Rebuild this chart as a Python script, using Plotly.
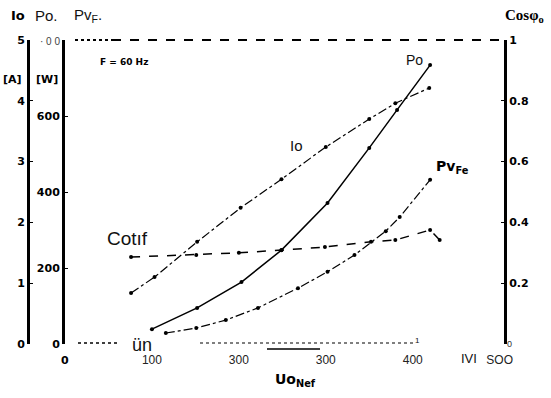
import plotly.graph_objects as go

# Line voltage U0 [V] and measured quantities
u_io = [76, 103, 152, 202, 249, 300, 350, 380, 419]
io_a = [0.84, 1.10, 1.68, 2.24, 2.71, 3.24, 3.70, 3.96, 4.21]

u_po = [100, 152, 203, 249, 302, 350, 382, 420]
po_w = [39, 95, 163, 247, 371, 516, 616, 734]

u_pv = [116, 151, 185, 222, 268, 302, 333, 369, 385, 420]
pv_w = [29, 42, 63, 95, 147, 190, 234, 297, 334, 432]

u_cos = [76, 151, 200, 249, 299, 352, 380, 420, 431]
cos_phi = [0.286, 0.293, 0.300, 0.309, 0.319, 0.336, 0.342, 0.375, 0.342]

x_ticks = [100, 200, 300, 400, 500]
x_labels = ["100", "300", "300", "400", "SOO"]
w_ticks = [0, 200, 400, 600]
w_labels = ["0", "200", "400", "600"]
a_ticks = [0, 1, 2, 3, 4, 5]
a_labels = ["0", "1", "2", "3", "4", "5"]
c_ticks = [0.2, 0.4, 0.6, 0.8, 1.0]
c_labels = ["0.2", "0.4", "0.6", "0.8", "1"]

W, H = 551, 398
ML, MR, MT, MB = 28, 47, 40, 54
PW, PH = W - ML - MR, H - MT - MB


def px(x):
    return (x - ML) / PW


def py(y):
    return (H - MB - y) / PH


BOLD = dict(family="DejaVu Sans", size=11, color="black", weight="bold")
PLAIN = dict(family="Liberation Sans", color="#111")

fig = go.Figure()
mk = dict(size=4, color="black")
fig.add_trace(go.Scatter(x=u_io, y=io_a, yaxis="y2", mode="lines+markers",
                         line=dict(color="black", width=1.2, dash="dashdot"), marker=mk))
fig.add_trace(go.Scatter(x=u_po, y=po_w, mode="lines+markers",
                         line=dict(color="black", width=1.5), marker=mk))
fig.add_trace(go.Scatter(x=u_pv, y=pv_w, mode="lines+markers",
                         line=dict(color="black", width=1.2, dash="dashdot"), marker=mk))
fig.add_trace(go.Scatter(x=u_cos, y=cos_phi, yaxis="y3", mode="lines+markers",
                         line=dict(color="black", width=1.5, dash="dash"), marker=mk))

axis_common = dict(showgrid=False, zeroline=False, showline=True, linecolor="black",
                   linewidth=3, ticks="inside", ticklen=3, tickcolor="black", tickfont=BOLD)

fig.update_layout(
    width=W, height=H, showlegend=False,
    margin=dict(l=ML, r=MR, t=MT, b=MB, pad=0),
    paper_bgcolor="white", plot_bgcolor="white",
    xaxis=dict(domain=[px(65), 1], range=[0, 505], showgrid=False, zeroline=False,
               showline=False, ticks="", tickvals=x_ticks, ticktext=x_labels,
               ticklabelstandoff=7,
               tickfont=dict(PLAIN, size=12, color="#222")),
    yaxis=dict(axis_common, range=[0, 800], tickvals=w_ticks, ticktext=w_labels),
    yaxis2=dict(axis_common, range=[0, 5], overlaying="y", anchor="free", position=0,
                tickvals=a_ticks, ticktext=a_labels),
    yaxis3=dict(axis_common, range=[0, 1], overlaying="y", anchor="x", side="right",
                tickvals=c_ticks, ticktext=c_labels),
)

# frame lines along top and bottom of the plotting area
shapes = [
    dict(x0=px(75), x1=px(112), y0=py(40), y1=py(40), line=dict(color="black", width=2, dash="dot")),
    dict(x0=px(112), x1=px(504), y0=py(40), y1=py(40), line=dict(color="black", width=2, dash="dash")),
    dict(x0=px(78), x1=px(118), y0=py(343), y1=py(343), line=dict(color="black", width=1.5, dash="dot")),
    dict(x0=px(200), x1=px(415), y0=py(343), y1=py(343), line=dict(color="black", width=1.2, dash="dot")),
    dict(x0=px(267), x1=px(320), y0=py(349), y1=py(349), line=dict(color="black", width=1.5)),
]
for s in shapes:
    s.update(type="line", xref="paper", yref="paper")
fig.update_layout(shapes=shapes)


def note(text, x, y, font, xanchor="center"):
    fig.add_annotation(text=text, x=px(x), y=py(y), xref="paper", yref="paper",
                       showarrow=False, xanchor=xanchor, yanchor="middle", font=font)


note("Io", 18, 15, dict(BOLD, size=13))
note("Po.", 46, 15, dict(PLAIN, size=15))
note("Pv<sub>F</sub>.", 88, 16, dict(PLAIN, size=15))
note("Cos\u03c6<sub>o</sub>", 524, 16, dict(family="Liberation Serif", size=15, color="black", weight="bold"))
note("[A]", 12, 80, BOLD)
note("[W]", 47, 80, BOLD)
note("\u00b7 0 0", 50, 42, dict(PLAIN, size=10, color="#444"))
note("F = 60 Hz", 124, 62, dict(BOLD, size=9))
note("Po", 414, 60, dict(PLAIN, size=14))
note("Io", 296, 145, dict(PLAIN, size=15))
note("Pv<sub>Fe</sub>", 452, 167, dict(BOLD, size=14))
note("Cotıf", 127, 238, dict(PLAIN, size=19))
note("ün", 142, 345, dict(PLAIN, size=18))
note("1", 417, 340, dict(PLAIN, size=8))
note("0", 65, 360, BOLD)
note("0", 509, 344, dict(PLAIN, size=9, color="#333"))
note("IVI", 469, 358, dict(PLAIN, size=13))
note("Uo<sub>Nef</sub>", 295, 380, dict(BOLD, size=14))

fig.write_html("out.html")
